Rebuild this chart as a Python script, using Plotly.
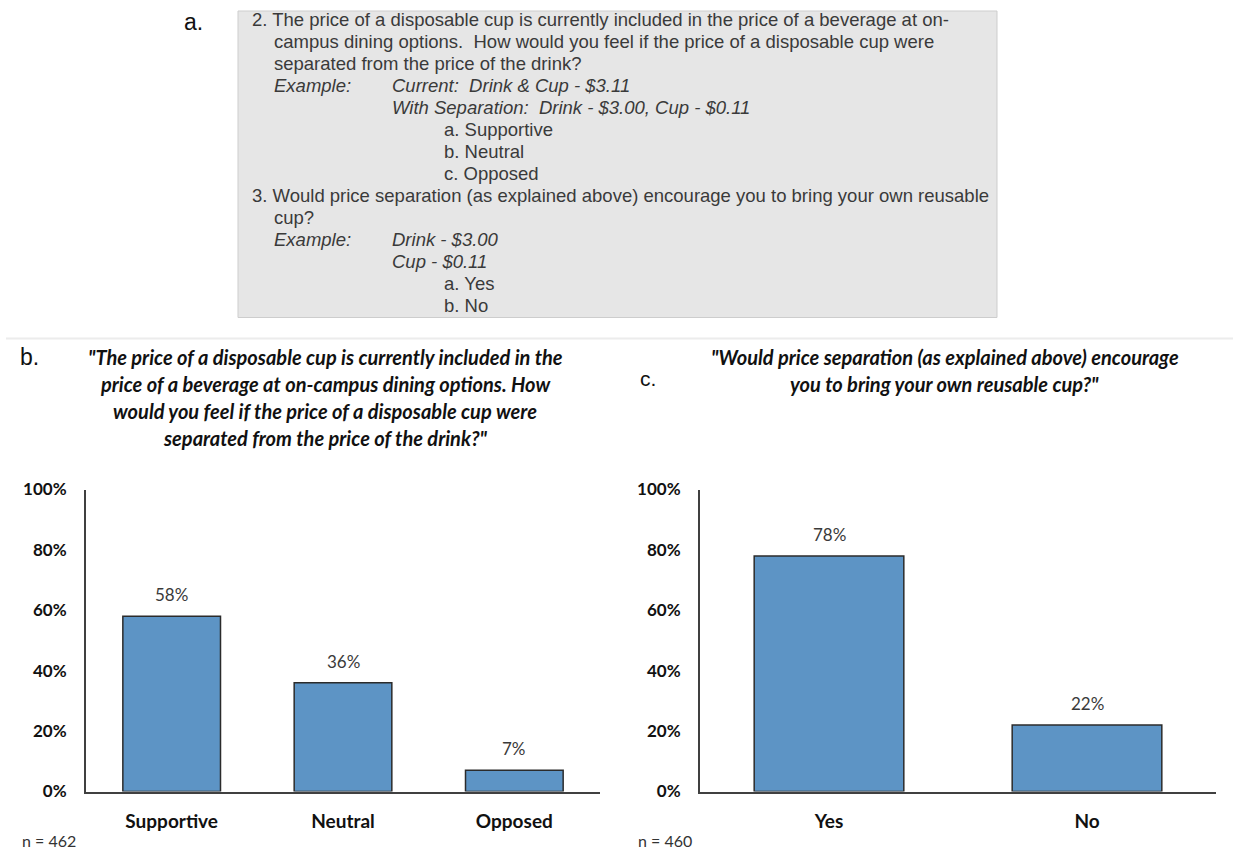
import plotly.graph_objects as go

# Survey results (percent of respondents)
q2_categories = ["Supportive", "Neutral", "Opposed"]
q2_values = [58, 36, 7]
q2_n = 462

q3_categories = ["Yes", "No"]
q3_values = [78, 22]
q3_n = 460

y_ticks = [0, 20, 40, 60, 80, 100]
y_tick_text = [f"{v}%" for v in y_ticks]

W, H = 1233, 850
Y0, YSPAN = 11.5, 829.0


def px(x):
    return x / W


def py(y):
    return 1 - (y - Y0) / YSPAN


BAR_COLOR = "#5d94c5"
EDGE = "#2b2b2b"
AXIS = "#404040"
BODY_FONT = "Lato"
TEXT_FONT = "Liberation Sans"

fig = go.Figure()

panels = [
    ("x", "y", q2_categories, q2_values, 0.57),
    ("x2", "y2", q3_categories, q3_values, 0.58),
]
annotations = []
for xa, ya, cats, vals, width in panels:
    fig.add_trace(go.Bar(
        x=cats, y=vals, xaxis=xa, yaxis=ya, width=width,
        marker=dict(color=BAR_COLOR, line=dict(color=EDGE, width=1.5)),
        showlegend=False, hoverinfo="x+y",
    ))
    # value labels above each bar
    for c, v in zip(cats, vals):
        annotations.append(dict(
            text=f"{v}%", x=c, y=v, xref=xa, yref=ya, xanchor="center", yanchor="bottom",
            yshift=9, showarrow=False,
            font=dict(family=BODY_FONT, size=17, color="#3a3a3a"),
        ))

xaxis_common = dict(
    showline=True, linecolor=AXIS, linewidth=2, showgrid=False, zeroline=False,
    ticks="", tickfont=dict(family=BODY_FONT, size=19, color="#111111", weight="bold"),
    ticklabelstandoff=12, fixedrange=True,
)
yaxis_common = dict(
    range=[0, 100], tickvals=y_ticks, ticktext=y_tick_text,
    showline=True, linecolor=AXIS, linewidth=2, showgrid=False, zeroline=False,
    ticks="", tickfont=dict(family=BODY_FONT, size=17, color="#111111", weight="bold"),
    ticklabelstandoff=14, fixedrange=True,
)

fig.update_layout(
    width=W, height=H,
    margin=dict(l=0, r=0, t=0, b=0),
    paper_bgcolor="white", plot_bgcolor="white",
    xaxis=dict(domain=[px(86), px(600)], anchor="y", **xaxis_common),
    yaxis=dict(domain=[py(792), py(490)], anchor="x", **yaxis_common),
    xaxis2=dict(domain=[px(700), px(1216)], anchor="y2", **xaxis_common),
    yaxis2=dict(domain=[py(792), py(490)], anchor="x2", **yaxis_common),
)

shapes = []

# Panel a: question box
shapes.append(dict(type="rect", xref="paper", yref="paper",
                   x0=px(238), x1=px(997), y0=py(318), y1=min(1.0, py(8)),
                   fillcolor="#e6e6e6", line=dict(color="#cdcdcd", width=1), layer="below"))
# divider between panels
shapes.append(dict(type="line", xref="paper", yref="paper",
                   x0=px(6), x1=px(1233), y0=py(339), y1=py(339),
                   line=dict(color="#ececec", width=2)))

panel_labels = [("a.", 182, 22, 23), ("b.", 18, 357, 23), ("c.", 638, 379, 21)]
for t, x, y, s in panel_labels:
    annotations.append(dict(text=t, x=px(x), y=py(y), xanchor="left", yanchor="middle",
                            font=dict(family=TEXT_FONT, size=s, color="#111111")))

box_lines = [
    (250, 20, "2. The price of a disposable cup is currently included in the price of a beverage at on-", False),
    (272, 42, "campus dining options.  How would you feel if the price of a disposable cup were", False),
    (272, 64, "separated from the price of the drink?", False),
    (272, 86, "Example:", True),
    (390, 86, "Current:  Drink &amp; Cup - $3.11", True),
    (390, 108, "With Separation:  Drink - $3.00, Cup - $0.11", True),
    (442, 130, "a. Supportive", False),
    (442, 152, "b. Neutral", False),
    (442, 174, "c. Opposed", False),
    (250, 196, "3. Would price separation (as explained above) encourage you to bring your own reusable", False),
    (272, 218, "cup?", False),
    (272, 240, "Example:", True),
    (390, 240, "Drink - $3.00", True),
    (390, 262, "Cup - $0.11", True),
    (442, 284, "a. Yes", False),
    (442, 306, "b. No", False),
]
for x, y, t, ital in box_lines:
    annotations.append(dict(
        text=f"<i>{t}</i>" if ital else t, x=px(x), y=py(y), xanchor="left", yanchor="middle",
        font=dict(family=TEXT_FONT, size=18.5, color="#3a3a3a"),
    ))

title_b = [
    "\"The price of a disposable cup is currently included in the",
    "price of a beverage at on-campus dining options. How",
    "would you feel if the price of a disposable cup were",
    "separated from the price of the drink?\"",
]
for i, t in enumerate(title_b):
    annotations.append(dict(
        text=f"<b><i>{t}</i></b>", x=px(325), y=py(358 + i * 26.7), xanchor="center", yanchor="middle",
        font=dict(family=BODY_FONT, size=20, color="#111111"),
    ))

title_c = [
    "\"Would price separation (as explained above) encourage",
    "you to bring your own reusable cup?\"",
]
for i, t in enumerate(title_c):
    annotations.append(dict(
        text=f"<b><i>{t}</i></b>", x=px(945), y=py(358 + i * 26.5), xanchor="center", yanchor="middle",
        font=dict(family=BODY_FONT, size=20, color="#111111"),
    ))

for n, x in [(q2_n, 20), (q3_n, 636)]:
    annotations.append(dict(text=f"n = {n}", x=px(x), y=py(841), xanchor="left", yanchor="middle",
                            font=dict(family=BODY_FONT, size=16, color="#333333")))

for a in annotations:
    a.setdefault("xref", "paper")
    a.setdefault("yref", "paper")
    a["showarrow"] = False

fig.update_layout(shapes=shapes, annotations=annotations)

fig.write_html("out.html")
